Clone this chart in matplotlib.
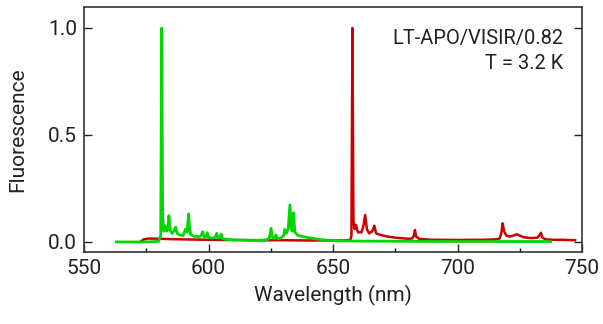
import matplotlib
matplotlib.use("Agg")
import matplotlib.pyplot as plt
from matplotlib.ticker import MultipleLocator

plt.rcParams['font.family'] = ['Roboto', 'DejaVu Sans']

# Green spectrum (wavelength nm, normalized fluorescence)
green_wl = [563, 575, 580, 580.8, 581.2, 581.6, 582.0, 582.5, 583.2, 583.7, 584.1, 584.7,
            585.5, 586.3, 586.8, 587.4, 588.5, 589.8, 590.8, 591.4, 592.0, 592.3, 592.8,
            593.6, 594.6, 595.3, 596.0, 597.0, 597.7, 598.3, 599.0, 599.5, 600.1, 601.5,
            602.7, 603.3, 603.9, 604.6, 605.1, 605.7, 607, 610, 615, 620, 623.5, 624.5,
            625.1, 625.7, 626.5, 627.1, 627.7, 629, 630.2, 630.6, 631.2, 632.0, 632.7,
            633.3, 633.7, 634.1, 634.7, 636, 638, 640, 643, 646, 650, 660, 680, 700, 720, 737.4]
green_val = [0.0, 0.0, 0.003, 0.03, 1.0, 0.12, 0.05, 0.076, 0.05, 0.06, 0.123, 0.05,
             0.04, 0.055, 0.069, 0.04, 0.032, 0.03, 0.06, 0.045, 0.131, 0.08, 0.035,
             0.03, 0.025, 0.028, 0.02, 0.03, 0.048, 0.022, 0.025, 0.043, 0.02, 0.018,
             0.022, 0.04, 0.018, 0.02, 0.037, 0.015, 0.012, 0.01, 0.008, 0.008, 0.01, 0.02,
             0.064, 0.02, 0.015, 0.033, 0.015, 0.018, 0.03, 0.059, 0.04, 0.06, 0.173,
             0.06, 0.05, 0.137, 0.045, 0.03, 0.025, 0.02, 0.015, 0.01, 0.006, 0.004,
             0.003, 0.002, 0.002, 0.002]

# Red spectrum
red_wl = [572.5, 574, 576, 580, 585, 590, 600, 610, 620, 630, 640, 650, 655, 657.0,
          657.4, 657.8, 658.2, 658.7, 659.2, 660, 661.5, 662.3, 662.9, 663.6, 664.5, 665.8,
          666.6, 667.3, 668.5, 670, 672, 675, 678, 680, 681.8, 682.5, 682.9, 683.4,
          684.5, 687, 690, 695, 700, 705, 710, 715, 716.8, 717.6, 718.1, 718.7, 719.6,
          721, 722.5, 723.7, 725, 726.5, 728, 730, 732, 732.9, 733.5, 734.1, 735.5,
          738, 742, 747.2]
red_val = [0.0, 0.012, 0.016, 0.015, 0.013, 0.012, 0.01, 0.009, 0.008, 0.008, 0.007,
           0.007, 0.007, 0.01, 0.03, 1.0, 0.1, 0.06, 0.08, 0.045, 0.045, 0.08, 0.126, 0.06,
           0.04, 0.05, 0.076, 0.04, 0.035, 0.03, 0.025, 0.02, 0.017, 0.015, 0.016, 0.03,
           0.056, 0.025, 0.015, 0.012, 0.01, 0.01, 0.009, 0.01, 0.01, 0.012, 0.015, 0.04,
           0.087, 0.05, 0.03, 0.025, 0.03, 0.036, 0.03, 0.022, 0.02, 0.018, 0.02, 0.03,
           0.043, 0.02, 0.012, 0.01, 0.01, 0.008]

fig = plt.figure(figsize=(6.03, 3.24), dpi=100)
ax = fig.add_axes([0.1393, 0.2222, 0.8259, 0.7562])

ax.plot(red_wl, red_val, color='#cc0000', lw=1.8, solid_joinstyle='round')
ax.plot(green_wl, green_val, color='#00d800', lw=2.0, solid_joinstyle='round')

ax.set_xlim(550, 750)
ax.set_ylim(-0.047, 1.098)
ax.xaxis.set_major_locator(MultipleLocator(50))
ax.xaxis.set_minor_locator(MultipleLocator(25))
ax.yaxis.set_major_locator(MultipleLocator(0.5))
ax.tick_params(axis='both', which='major', direction='in', length=6, width=1.0,
               labelsize=15, colors='#222222', pad=5)
ax.tick_params(axis='x', which='minor', direction='in', length=3, width=1.0)
ax.tick_params(axis='y', right=True)
ax.tick_params(axis='x', top=False)
for s in ax.spines.values():
    s.set_linewidth(1.2)
    s.set_color('#333333')

ax.set_xlabel('Wavelength (nm)', fontsize=15, labelpad=5, color='#222222')
ax.set_ylabel('Fluorescence', fontsize=15, labelpad=15, color='#222222')

ax.text(0.962, 0.91, 'LT-APO/VISIR/0.82\nT = 3.2 K', transform=ax.transAxes,
        ha='right', va='top', fontsize=14.5, linespacing=1.42, color='#222222')

fig.savefig('out.png', dpi=100)
